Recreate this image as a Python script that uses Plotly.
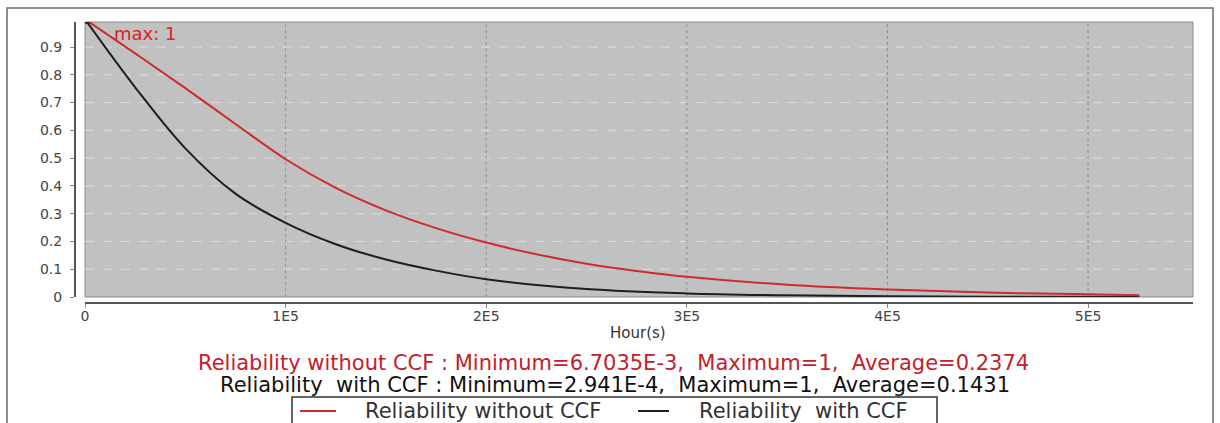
import plotly.graph_objects as go

# ---------------- data ----------------
hours_red = [0, 0.25e5, 0.5e5, 0.75e5, 1.0e5, 1.25e5, 1.5e5, 1.75e5, 2.0e5, 2.25e5,
             2.5e5, 2.75e5, 3.0e5, 3.5e5, 4.0e5, 4.5e5, 5.0e5, 5.256e5]
rel_without_ccf = [1.0, 0.877, 0.752, 0.623, 0.496, 0.393, 0.312, 0.248, 0.196, 0.154,
                   0.12, 0.094, 0.073, 0.044, 0.027, 0.016, 0.0098, 0.0067035]

hours_black = [0, 0.25e5, 0.5e5, 0.75e5, 1.0e5, 1.25e5, 1.5e5, 1.75e5, 2.0e5, 2.5e5,
               3.0e5, 3.5e5, 4.0e5, 4.5e5, 5.0e5, 5.256e5]
rel_with_ccf = [1.0, 0.755, 0.535, 0.372, 0.267, 0.19, 0.135, 0.095, 0.064, 0.029,
                0.013, 0.006, 0.0027, 0.0012, 0.0005, 0.0002941]

x_tickvals = [0, 1e5, 2e5, 3e5, 4e5, 5e5]
x_ticktext = ["0", "1E5", "2E5", "3E5", "4E5", "5E5"]
y_tickvals = [0, 0.1, 0.2, 0.3, 0.4, 0.5, 0.6, 0.7, 0.8, 0.9]
y_ticktext = ["0", "0.1", "0.2", "0.3", "0.4", "0.5", "0.6", "0.7", "0.8", "0.9"]

name_red = "Reliability without CCF"
name_black = "Reliability  with CCF"
stats_red = "Reliability without CCF : Minimum=6.7035E-3,  Maximum=1,  Average=0.2374"
stats_black = "Reliability  with CCF : Minimum=2.941E-4,  Maximum=1,  Average=0.1431"
x_title = "Hour(s)"
max_label = "max: 1"

# ---------------- layout geometry ----------------
W, H = 1220, 423
ML, MR, MT, MB = 75, 27, 22, 120
PW = W - ML - MR
PH = H - MT - MB


def px_x(px):
    return (px - ML) / PW


def px_y(py):
    return (H - MB - py) / PH


RED = "#cf2a2f"
RED_TXT = "#c4202b"
BLACK = "#1e1e1e"
FONT = "DejaVu Sans"

fig = go.Figure()
fig.add_trace(go.Scatter(x=hours_black, y=rel_with_ccf, mode="lines", name=name_black,
                         line=dict(color=BLACK, width=2, shape="spline"), showlegend=False))
fig.add_trace(go.Scatter(x=hours_red, y=rel_without_ccf, mode="lines", name=name_red,
                         line=dict(color=RED, width=2, shape="spline"), showlegend=False))
# max marker
fig.add_trace(go.Scatter(x=[hours_black[0]], y=[rel_with_ccf[0]], mode="markers",
                         marker=dict(symbol="square", size=9, color=BLACK),
                         showlegend=False, hoverinfo="skip"))

x_max = 5.523e5
y_max = 0.99

shapes = []
# grey plot background
shapes.append(dict(type="rect", xref="x domain", yref="y domain", x0=0, x1=1, y0=0, y1=1,
                   fillcolor="#c1c1c1", line=dict(color="#8a8a8a", width=1), layer="below"))
# grid lines
for v in y_tickvals[1:]:
    shapes.append(dict(type="line", xref="x domain", yref="y", x0=0, x1=1, y0=v, y1=v,
                       line=dict(color="#dedede", width=1, dash="dash"), layer="below"))
for v in x_tickvals[1:]:
    shapes.append(dict(type="line", xref="x", yref="y domain", x0=v, x1=v, y0=0, y1=1,
                       line=dict(color="#8e8e8e", width=1, dash="dot"), layer="below"))
# outer frame
shapes.append(dict(type="rect", xref="paper", yref="paper",
                   x0=px_x(7), x1=px_x(1213), y0=px_y(440), y1=px_y(8),
                   line=dict(color="#6a6a6a", width=1.5), fillcolor="rgba(0,0,0,0)", layer="below"))

# legend (drawn as box, line samples and text)
LEG_Y = 411
shapes.append(dict(type="rect", xref="paper", yref="paper",
                   x0=px_x(292), x1=px_x(937), y0=px_y(440), y1=px_y(397),
                   line=dict(color="#333", width=1.5), fillcolor="white", layer="above"))
shapes.append(dict(type="line", xref="paper", yref="paper",
                   x0=px_x(300), x1=px_x(336), y0=px_y(LEG_Y), y1=px_y(LEG_Y),
                   line=dict(color=RED, width=2), layer="above"))
shapes.append(dict(type="line", xref="paper", yref="paper",
                   x0=px_x(638), x1=px_x(669), y0=px_y(LEG_Y), y1=px_y(LEG_Y),
                   line=dict(color=BLACK, width=2), layer="above"))

annotations = [
    dict(text=x_title, xref="paper", yref="paper", x=px_x(638), y=px_y(333),
         xanchor="center", yanchor="middle", showarrow=False,
         font=dict(family=FONT, size=15, color="#333")),
    dict(text=stats_red, xref="paper", yref="paper", x=px_x(613), y=px_y(363),
         xanchor="center", yanchor="middle", showarrow=False,
         font=dict(family=FONT, size=21, color=RED_TXT)),
    dict(text=stats_black, xref="paper", yref="paper", x=px_x(615), y=px_y(385),
         xanchor="center", yanchor="middle", showarrow=False,
         font=dict(family=FONT, size=21, color="#111")),
    dict(text=max_label, xref="paper", yref="paper", x=px_x(112), y=px_y(33),
         xanchor="left", yanchor="middle", showarrow=False,
         font=dict(family=FONT, size=18, color="#e02020")),
    dict(text=name_red, xref="paper", yref="paper", x=px_x(483), y=px_y(LEG_Y),
         xanchor="center", yanchor="middle", showarrow=False,
         font=dict(family=FONT, size=21, color="#333")),
    dict(text=name_black, xref="paper", yref="paper", x=px_x(803), y=px_y(LEG_Y),
         xanchor="center", yanchor="middle", showarrow=False,
         font=dict(family=FONT, size=21, color="#333")),
]

fig.update_layout(
    width=W, height=H,
    margin=dict(l=ML, r=MR, t=MT, b=MB, pad=0),
    paper_bgcolor="white", plot_bgcolor="white",
    showlegend=False,
    shapes=shapes,
    annotations=annotations,
    xaxis=dict(domain=[px_x(85), 1], anchor="free", position=0, range=[0, x_max],
               tickvals=x_tickvals, ticktext=x_ticktext, showgrid=False, zeroline=False,
               showline=True, linecolor="#555", linewidth=2,
               ticks="outside", ticklen=4, tickcolor="#888", ticklabelstandoff=-4,
               tickfont=dict(family=FONT, size=14, color="#444")),
    yaxis=dict(domain=[px_y(297), 1], anchor="free", position=0, range=[0, y_max],
               tickvals=y_tickvals, ticktext=y_ticktext, showgrid=False, zeroline=False,
               showline=True, linecolor="#555", linewidth=2,
               ticks="outside", ticklen=4, tickcolor="#888", ticklabelstandoff=5,
               tickfont=dict(family=FONT, size=14, color="#444")),
)

fig.write_html("out.html")
